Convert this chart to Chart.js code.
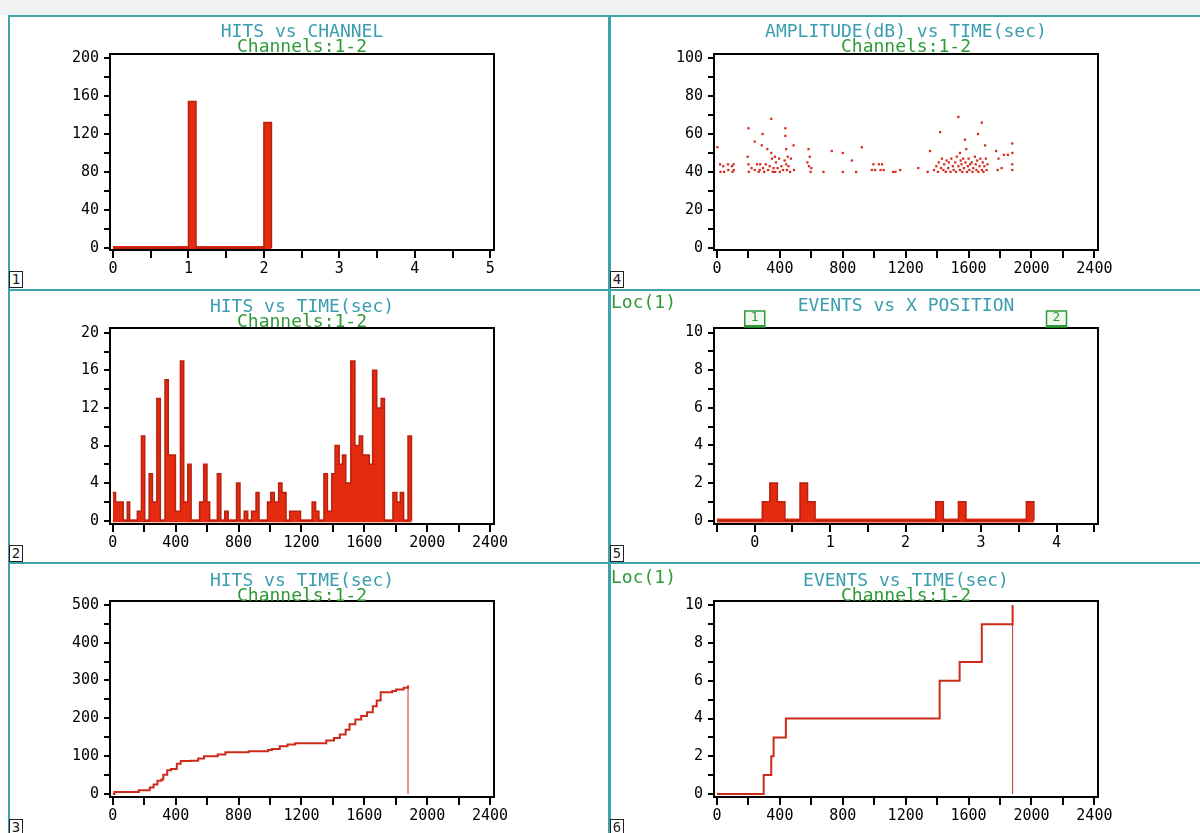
<!DOCTYPE html>
<html>
<head>
<meta charset="utf-8">
<script src="https://cdn.jsdelivr.net/npm/chart.js@4.4.1/dist/chart.umd.min.js"></script>
<style>
  body { margin: 0; width: 1200px; height: 833px; background: #fff; position: relative; overflow: hidden; font-family: "DejaVu Sans Mono", monospace; }
  .strip { position: absolute; left: 0; top: 0; width: 1200px; height: 15px; background: #f1f2f2; }
  .rule { position: absolute; background: #3fa3ac; }
  .title { position: absolute; width: 420px; text-align: center; font-size: 18px; line-height: 15px; white-space: pre; z-index: 2; }
  .t1 { color: #3a9db0; }
  .t2 { color: #2e9a36; }
  .loc { position: absolute; color: #2e9a36; font-size: 18px; line-height: 15px; z-index: 2; }
  .num { position: absolute; width: 12px; height: 15px; border: 1.5px solid #222; font-size: 14px; line-height: 15px; text-align: center; color: #222; background: #fff; z-index: 2; }
  canvas { position: absolute; }
</style>
</head>
<body>
<div class="strip"></div>
<div class="rule" style="left:8px;top:15px;width:1192px;height:2px"></div>
<div class="rule" style="left:8px;top:289px;width:1192px;height:2px"></div>
<div class="rule" style="left:8px;top:562px;width:1192px;height:2px"></div>
<div class="rule" style="left:8px;top:15px;width:2px;height:818px"></div>
<div class="rule" style="left:608px;top:15px;width:3px;height:818px"></div>

<div class="title" style="left:92px;top:23px"><span class="t1">HITS vs CHANNEL</span>
<span class="t2">Channels:1-2</span></div>
<div class="title" style="left:92px;top:298px"><span class="t1">HITS vs TIME(sec)</span>
<span class="t2">Channels:1-2</span></div>
<div class="title" style="left:92px;top:572px"><span class="t1">HITS vs TIME(sec)</span>
<span class="t2">Channels:1-2</span></div>
<div class="title" style="left:696px;top:23px"><span class="t1">AMPLITUDE(dB) vs TIME(sec)</span>
<span class="t2">Channels:1-2</span></div>
<div class="title" style="left:696px;top:297px"><span class="t1">EVENTS vs X POSITION</span></div>
<div class="title" style="left:696px;top:572px"><span class="t1">EVENTS vs TIME(sec)</span>
<span class="t2">Channels:1-2</span></div>
<div class="loc" style="left:611px;top:294px">Loc(1)</div>
<div class="loc" style="left:611px;top:569px">Loc(1)</div>

<div class="num" style="left:9px;top:271px">1</div>
<div class="num" style="left:9px;top:545px">2</div>
<div class="num" style="left:9px;top:819px">3</div>
<div class="num" style="left:610px;top:271px">4</div>
<div class="num" style="left:610px;top:545px">5</div>
<div class="num" style="left:610px;top:819px">6</div>

<script>
// hits per channel (bin left edge, height)
const channelEdges = [0, 1.0, 1.1, 2.0, 2.1];
const channelHits = [0, 154, 0, 132, 0];

// hits vs time histogram (bin left edge in sec, hits)
const hitBinStart = [0, 17, 66, 92, 107, 156, 182, 203, 231, 252, 280, 302, 332, 353, 398, 430, 451, 477, 498, 552,
  578, 599, 616, 665, 687, 712, 734, 787, 809, 836, 858, 883, 911, 930, 984, 1005, 1027, 1055, 1076, 1102,
  1125, 1194, 1268, 1290, 1311, 1343, 1365, 1393, 1414, 1440, 1461, 1482, 1514, 1540, 1568, 1589, 1632, 1653, 1679, 1707,
  1728, 1782, 1807, 1829, 1850, 1878, 1900];
const hitBinCount = [3, 2, 0, 2, 0, 1, 9, 0, 5, 2, 13, 0, 15, 7, 1, 17, 2, 6, 0, 2,
  6, 2, 0, 5, 0, 1, 0, 4, 0, 1, 0, 1, 3, 0, 2, 3, 2, 4, 3, 0,
  1, 0, 2, 1, 0, 5, 1, 5, 8, 6, 7, 4, 17, 8, 9, 7, 6, 16, 12, 13,
  0, 3, 2, 3, 0, 9, 0];

// cumulative hits vs time
const cumTime = [0, 10, 165, 235, 259, 284, 309, 321, 346, 370, 407, 432, 494, 543, 580, 667, 716, 864, 988, 1012,
  1062, 1111, 1160, 1358, 1407, 1444, 1481, 1506, 1543, 1580, 1617, 1654, 1679, 1704, 1778, 1802, 1850, 1878, 1878];
const cumHits = [0, 5, 10, 17, 25, 35, 38, 51, 63, 66, 80, 87, 88, 94, 100, 104, 110, 113, 116, 119,
  126, 131, 134, 141, 148, 157, 170, 184, 197, 206, 216, 232, 247, 269, 272, 276, 281, 287, 0];

// amplitude vs time scatter
const ampTime = [2, 20, 22, 40, 45, 70, 72, 95, 98, 105, 107,
  195, 200, 200, 202, 220, 240, 240, 255, 265, 272, 275, 285, 290, 292, 300, 310, 320, 325, 335,
  345, 345, 350, 355, 360, 368, 370, 375, 385, 395, 400, 410, 420, 430, 435, 435, 440, 440, 445, 450,
  455, 465, 470, 487, 490, 575, 582, 585, 590, 595, 600, 677, 730, 800, 800, 858, 885, 921,
  985, 995, 1005, 1030, 1040, 1050, 1060, 1120, 1135, 1165, 1280, 1340, 1355,
  1380, 1395, 1405, 1410, 1419, 1425, 1430, 1440, 1445, 1455, 1460, 1470, 1475, 1485, 1490, 1500, 1505, 1515, 1520, 1525,
  1535, 1535, 1545, 1545, 1550, 1555, 1560, 1565, 1570, 1577, 1580, 1585, 1590, 1595, 1600, 1605, 1610, 1620, 1625, 1630,
  1640, 1645, 1650, 1655, 1660, 1662, 1670, 1675, 1684, 1685, 1690, 1695, 1700, 1705, 1710, 1715, 1720,
  1775, 1785, 1790, 1810, 1825, 1850, 1878, 1878, 1878, 1878];
const ampDb = [53, 44, 40, 43, 40, 44, 41, 43, 40, 44, 41,
  48, 63, 44, 40, 42, 56, 41, 44, 40, 41, 44, 54, 60, 42, 40, 44, 52, 41, 43,
  68, 50, 47, 40, 42, 48, 40, 45, 42, 47, 40, 43, 41, 46, 63, 59, 52, 44, 41, 48,
  43, 40, 47, 54, 41, 45, 52, 43, 48, 40, 42, 40, 51, 50, 40, 46, 40, 53,
  41, 44, 41, 44, 41, 44, 41, 40, 40, 41, 42, 40, 51,
  41, 43, 40, 45, 61, 42, 47, 41, 44, 40, 46, 42, 45, 40, 47, 43, 41, 45, 40, 48,
  69, 43, 50, 41, 46, 44, 40, 47, 42, 57, 45, 52, 40, 43, 47, 41, 44, 45, 40, 42,
  48, 44, 41, 46, 60, 40, 43, 47, 66, 41, 45, 40, 43, 54, 47, 41, 44,
  51, 41, 47, 42, 49, 49, 55, 50, 44, 41];

// events vs x position (bin left edge, events)
const posEdges = [-0.5, 0.1, 0.2, 0.3, 0.4, 0.6, 0.7, 0.8, 2.4, 2.5, 2.7, 2.8, 3.6, 3.7];
const posEvents = [0, 1, 2, 1, 0, 2, 1, 0, 1, 0, 1, 0, 1, 0];
const sensorPos = [0, 4];
const sensorLabels = ['1', '2'];

// cumulative events vs time
const eventTime = [0, 297, 345, 360, 438, 1416, 1543, 1684, 1880, 1880];
const eventCount = [0, 1, 2, 3, 4, 6, 7, 9, 10, 0];

const FILL = '#e42a0f';
const EDGE = '#b8220f';
const LINE = '#cc2b1b';
const DOT = '#d62a1c';

Chart.defaults.font.family = '"DejaVu Sans Mono", monospace';

const pts = (xs, ys) => xs.map((x, i) => ({ x: x, y: ys[i] }));
const isMult = (v, m) => Math.abs(v / m - Math.round(v / m)) < 1e-6;

const framePlugin = {
  id: 'frame',
  afterDraw(chart) {
    const a = chart.chartArea, ctx = chart.ctx;
    ctx.save();
    ctx.strokeStyle = '#000';
    ctx.lineWidth = 2;
    ctx.strokeRect(a.left, a.top, a.right - a.left, a.bottom - a.top);
    ctx.restore();
  }
};

const sensorPlugin = {
  id: 'sensors',
  afterDraw(chart) {
    const ctx = chart.ctx, xs = chart.scales.x, top = chart.chartArea.top;
    ctx.save();
    sensorPos.forEach((p, i) => {
      const cx = xs.getPixelForValue(p);
      ctx.fillStyle = '#eef8ee';
      ctx.fillRect(cx - 10, top - 17, 20, 16);
      ctx.strokeStyle = '#2e9a36';
      ctx.lineWidth = 1.5;
      ctx.strokeRect(cx - 10, top - 17, 20, 16);
      ctx.fillStyle = '#2e9a36';
      ctx.fillRect(cx - 10, top - 3, 20, 2);
      ctx.font = '13px "DejaVu Sans Mono"';
      ctx.textAlign = 'center';
      ctx.textBaseline = 'middle';
      ctx.fillText(sensorLabels[i], cx, top - 10);
    });
    ctx.restore();
  }
};

const axis = (min, max, step, labelEvery, isX) => ({
  type: 'linear',
  min: min,
  max: max,
  grid: { drawOnChartArea: false, drawTicks: true, tickLength: isX ? 8 : 6, color: '#000', lineWidth: 2 },
  border: { display: false },
  ticks: {
    stepSize: step,
    includeBounds: false,
    autoSkip: false,
    maxRotation: 0,
    padding: isX ? 2 : 5,
    color: '#000',
    font: { size: 15 },
    callback: (v) => isMult(v, labelEvery) ? String(Math.round(v * 10) / 10) : ''
  },
  afterFit: (s) => { if (isX) s.height = 30; else s.width = 48; }
});

const makeChart = (left, top, xAxis, yAxis, datasets, extra) => {
  const padTop = 22, w = 48 + 384 + 26, h = padTop + 196 + 30;
  const c = document.createElement('canvas');
  c.width = w; c.height = h;
  c.style.left = (left - 48) + 'px';
  c.style.top = (top - padTop) + 'px';
  c.style.width = w + 'px';
  c.style.height = h + 'px';
  document.body.appendChild(c);
  return new Chart(c.getContext('2d'), {
    type: 'line',
    data: { datasets: datasets },
    options: {
      responsive: false,
      animation: false,
      devicePixelRatio: 1,
      layout: { padding: { left: 0, top: padTop, right: 26, bottom: 0 } },
      plugins: { legend: { display: false }, tooltip: { enabled: false } },
      scales: { x: xAxis, y: yAxis }
    },
    plugins: [framePlugin].concat(extra || [])
  });
};

const histogram = (xs, ys, edgeWidth) => ({
  data: pts(xs, ys),
  stepped: 'before',
  borderColor: EDGE,
  borderWidth: edgeWidth,
  backgroundColor: FILL,
  fill: 'origin',
  pointRadius: 0
});
const baseline = (x0, x1, width) => ({
  data: [{ x: x0, y: 0 }, { x: x1, y: 0 }],
  borderColor: FILL,
  borderWidth: width,
  pointRadius: 0,
  fill: false
});
const cumulative = (xs, ys) => ({
  data: pts(xs, ys),
  stepped: 'before',
  borderColor: LINE,
  borderWidth: 2,
  pointRadius: 0,
  fill: false,
  segment: { borderWidth: (ctx) => ctx.p1DataIndex === xs.length - 1 ? 1 : 2 }
});

// 1: hits vs channel
makeChart(110, 54, axis(-0.04, 5.05, 0.5, 1, true), axis(-2, 204, 20, 40, false), [
  histogram(channelEdges, channelHits, 1.5),
  baseline(channelEdges[0], channelEdges[channelEdges.length - 1], 4)
]);

// 2: hits vs time
makeChart(110, 328, axis(-18, 2425, 200, 400, true), axis(-0.35, 20.5, 2, 4, false), [
  histogram(hitBinStart, hitBinCount, 1.5),
  baseline(hitBinStart[0], hitBinStart[hitBinStart.length - 1], 3)
]);

// 3: cumulative hits vs time
makeChart(110, 601, axis(-18, 2425, 200, 400, true), axis(-8, 510, 50, 100, false), [
  cumulative(cumTime, cumHits)
]);

// 4: amplitude vs time
makeChart(714, 54, axis(-19, 2423, 200, 400, true), axis(-1.2, 102.2, 10, 20, false), [{
  data: pts(ampTime, ampDb),
  showLine: false,
  pointStyle: 'rect',
  pointRadius: 1.6,
  pointBorderWidth: 0,
  pointBackgroundColor: DOT,
  borderColor: DOT
}]);

// 5: events vs x position
makeChart(714, 328, axis(-0.54, 4.55, 0.5, 1, true), axis(-0.18, 10.24, 1, 2, false), [
  histogram(posEdges, posEvents, 1.5),
  baseline(posEdges[0], posEdges[posEdges.length - 1], 4)
], [sensorPlugin]);

// 6: cumulative events vs time
makeChart(714, 601, axis(-19, 2423, 200, 400, true), axis(-0.16, 10.23, 1, 2, false), [
  cumulative(eventTime, eventCount)
]);
</script>
</body>
</html>
